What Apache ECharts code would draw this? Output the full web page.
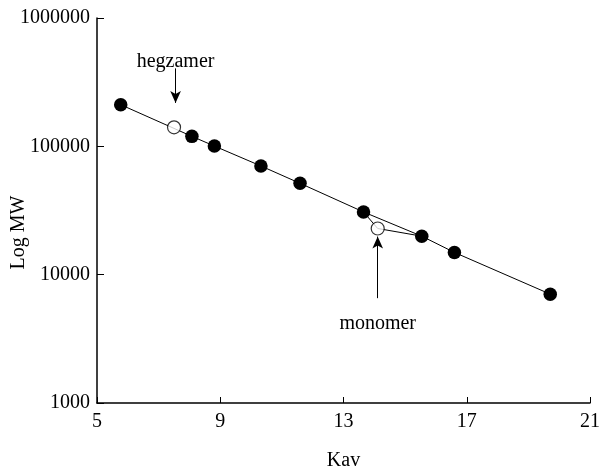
<!DOCTYPE html>
<html>
<head>
<meta charset="utf-8">
<script src="https://cdn.jsdelivr.net/npm/echarts@6/dist/echarts.min.js"></script>
<style>html,body{margin:0;padding:0;background:#fff}#c{width:601px;height:468px}</style>
</head>
<body>
<div id="c"></div>
<script>
// Standards (filled circles)
const stdKav = [5.77, 8.08, 8.81, 10.32, 11.59, 13.65, 15.54, 16.6, 19.71];
const stdMW = [211000, 119600, 100500, 70300, 51500, 30800, 19950, 14900, 7050];
// Sample points (open circles)
const sampleKav = [7.5, 14.11];
const sampleMW = [140600, 22900];
const sampleNames = ['hegzamer', 'monomer'];
// Connector around monomer
const linkKav = [13.65, 14.11, 15.54];
const linkMW = [30800, 22900, 19950];
// Arrow annotations [fromKav, fromMW, toKav, toMW]
const hegArrow = [7.55, 405000, 7.55, 218000];
const monoArrow = [14.11, 6560, 14.11, 19800];
// Axis
const xTicks = [5, 9, 13, 17, 21];
const yTicks = [1000, 10000, 100000, 1000000];

const font = 'Liberation Serif';
const zip = (a, b) => a.map((v, i) => [v, b[i]]);

const chart = echarts.init(document.getElementById('c'));
chart.setOption({
  animation: false,
  backgroundColor: '#fff',
  grid: { left: 97, right: 11, top: 18, bottom: 65, containLabel: false, outerBoundsMode: 'none' },
  xAxis: {
    type: 'value', min: xTicks[0], max: xTicks[xTicks.length - 1], interval: 4,
    name: 'Kav', nameLocation: 'middle', nameGap: 48, nameMoveOverlap: false,
    nameTextStyle: { fontFamily: font, fontSize: 20, color: '#000' },
    axisLine: { lineStyle: { color: '#000', width: 1.5 } },
    axisTick: { inside: true, length: 6, lineStyle: { color: '#000' } },
    splitLine: { show: false },
    axisLabel: { fontFamily: font, fontSize: 20, color: '#000', margin: 9 }
  },
  yAxis: {
    type: 'log', logBase: 10, min: yTicks[0], max: yTicks[yTicks.length - 1],
    name: 'Log MW', nameLocation: 'middle', nameGap: 68, nameRotate: 90, nameMoveOverlap: false,
    nameTextStyle: { fontFamily: font, fontSize: 20, color: '#000', padding: [0, 44, 0, 0] },
    axisLine: { show: true, lineStyle: { color: '#000', width: 1.5 } },
    axisTick: { inside: true, length: 7, lineStyle: { color: '#000' } },
    splitLine: { show: false },
    axisLabel: { fontFamily: font, fontSize: 20, color: '#000', margin: 7,
      formatter: v => String(Math.round(v)) }
  },
  series: [
    {
      type: 'line', data: zip(stdKav, stdMW), symbol: 'circle', symbolSize: 13.5,
      itemStyle: { color: '#000' }, lineStyle: { color: '#000', width: 1 }, z: 3,
      markLine: {
        silent: true, symbol: ['none', 'arrow'], symbolSize: [8, 12],
        lineStyle: { color: '#000', width: 1, type: 'solid' },
        label: { show: true, position: 'start', fontFamily: font, fontSize: 20, color: '#000' },
        data: [
          [{ coord: [hegArrow[0], hegArrow[1]], name: sampleNames[0], label: { formatter: sampleNames[0], position: 'start', distance: -3 } },
           { coord: [hegArrow[2], hegArrow[3]] }],
          [{ coord: [monoArrow[0], monoArrow[1]], name: sampleNames[1], label: { formatter: sampleNames[1], position: 'start', distance: 16 } },
           { coord: [monoArrow[2], monoArrow[3]] }]
        ]
      }
    },
    {
      type: 'line', data: zip(linkKav, linkMW), symbol: 'none',
      lineStyle: { color: '#000', width: 1 }, z: 2
    },
    {
      type: 'scatter', data: zip(sampleKav, sampleMW), symbol: 'circle', symbolSize: 13,
      itemStyle: { color: '#fff', borderColor: '#000', borderWidth: 1.2 }, z: 4
    }
  ]
});
</script>
</body>
</html>
